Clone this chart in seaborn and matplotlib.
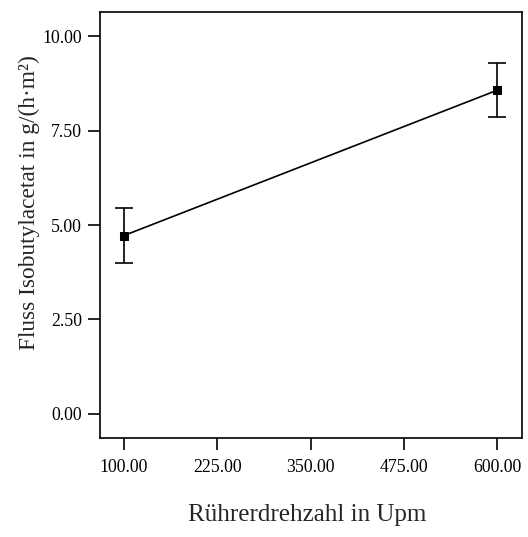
import pandas as pd
import matplotlib
matplotlib.use('Agg')
import matplotlib.pyplot as plt
import seaborn as sns

# Rührerdrehzahl vs. Fluss Isobutylacetat
drehzahl = [100, 600]
fluss = [4.72, 8.57]
fehler = [0.73, 0.72]
x_ticks = [100, 225, 350, 475, 600]
y_ticks = [0.0, 2.5, 5.0, 7.5, 10.0]

df = pd.DataFrame({'drehzahl': drehzahl, 'fluss': fluss, 'fehler': fehler})

sns.set_style('ticks')
plt.rcParams['font.family'] = ['Liberation Serif', 'DejaVu Serif']

fig = plt.figure(figsize=(5.28, 5.37), dpi=100)
ax = fig.add_axes([100 / 528, 1 - 438 / 537, 422 / 528, 426 / 537])

ax.errorbar(df['drehzahl'], df['fluss'], yerr=df['fehler'], fmt='none',
            ecolor='black', elinewidth=1.2, capsize=6.8, capthick=1.2)
sns.lineplot(data=df, x='drehzahl', y='fluss', ax=ax, color='black',
             linewidth=1.2, marker='s', markersize=6, markeredgecolor='black')

ax.set_xlim(68, 633)
ax.set_ylim(-0.64, 10.64)
ax.set_xticks(x_ticks)
ax.set_xticklabels([f'{v:.2f}' for v in x_ticks])
ax.set_yticks(y_ticks)
ax.set_yticklabels([f'{v:.2f}' for v in y_ticks])
ax.tick_params(axis='both', direction='out', length=8.6, width=1.2,
               labelsize=12.8, colors='black', pad=4.5)
ax.tick_params(axis='x', pad=6.5)
for s in ax.spines.values():
    s.set_linewidth(1.2)
    s.set_color('black')
    s.set_visible(True)

ax.set_xlabel('Rührerdrehzahl in Upm', fontsize=18, va='center')
ax.xaxis.set_label_coords(0.49, -0.181)
ax.set_ylabel('Fluss Isobutylacetat in g/(h·m²)', fontsize=16.8, va='center')
ax.yaxis.set_label_coords(-0.168, 0.552)

fig.savefig('out.png', dpi=100)
